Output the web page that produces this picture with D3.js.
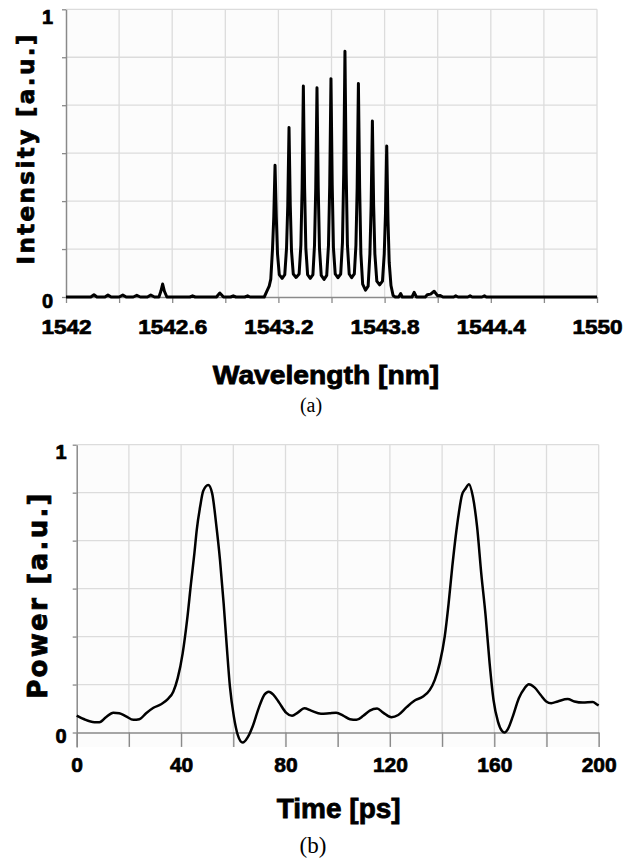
<!DOCTYPE html>
<html>
<head>
<meta charset="utf-8">
<script src="https://cdn.jsdelivr.net/npm/d3@7"></script>
<style>
  body { margin: 0; background: #fff; }
  svg { display: block; }
</style>
</head>
<body>
<div id="chart"></div>
<script>
// (a) optical spectrum, [wavelength nm, intensity a.u.]
const spectrum = [
  [1542.00, 0], [1542.14, 0], [1542.158, 0.008], [1542.175, 0],
  [1542.22, 0], [1542.237, 0.007], [1542.255, 0],
  [1542.30, 0], [1542.321, 0.007], [1542.34, 0],
  [1542.38, 0], [1542.400, 0.006], [1542.42, 0],
  [1542.46, 0], [1542.479, 0.007], [1542.50, 0],
  [1542.525, 0], [1542.536, 0.02], [1542.546, 0.045], [1542.556, 0.02], [1542.57, 0],
  [1542.70, 0], [1542.715, 0.004], [1542.73, 0],
  [1542.85, 0], [1542.869, 0.014], [1542.89, 0],
  [1542.93, 0], [1542.945, 0.004], [1542.96, 0],
  [1543.01, 0], [1543.026, 0.004], [1543.04, 0],
  [1543.12, 0], [1543.135, 0.02], [1543.148, 0.038],
  [1543.157, 0.062], [1543.167, 0.17], [1543.174, 0.28], [1543.181, 0.458], [1543.188, 0.28], [1543.195, 0.15], [1543.205, 0.078],
  [1543.221, 0.065],
  [1543.236, 0.078], [1543.246, 0.17], [1543.253, 0.32], [1543.260, 0.589], [1543.267, 0.32], [1543.274, 0.16], [1543.284, 0.08],
  [1543.300, 0.068],
  [1543.317, 0.08], [1543.327, 0.18], [1543.334, 0.38], [1543.341, 0.733], [1543.348, 0.38], [1543.355, 0.17], [1543.365, 0.078],
  [1543.380, 0.065],
  [1543.395, 0.078], [1543.404, 0.18], [1543.411, 0.38], [1543.418, 0.727], [1543.425, 0.38], [1543.432, 0.17], [1543.442, 0.075],
  [1543.458, 0.061],
  [1543.473, 0.075], [1543.483, 0.18], [1543.490, 0.39], [1543.497, 0.759], [1543.504, 0.39], [1543.511, 0.17], [1543.521, 0.08],
  [1543.536, 0.067],
  [1543.552, 0.08], [1543.562, 0.19], [1543.569, 0.43], [1543.576, 0.854], [1543.583, 0.43], [1543.590, 0.18], [1543.600, 0.08],
  [1543.614, 0.067],
  [1543.629, 0.08], [1543.638, 0.18], [1543.645, 0.38], [1543.652, 0.742], [1543.659, 0.38], [1543.666, 0.15], [1543.676, 0.045],
  [1543.692, 0.024],
  [1543.707, 0.038], [1543.717, 0.15], [1543.724, 0.32], [1543.731, 0.612], [1543.738, 0.32], [1543.745, 0.15], [1543.756, 0.055],
  [1543.772, 0.042],
  [1543.788, 0.055], [1543.798, 0.15], [1543.805, 0.29], [1543.812, 0.525], [1543.819, 0.27], [1543.826, 0.12], [1543.836, 0.04],
  [1543.848, 0.005], [1543.860, 0],
  [1543.88, 0], [1543.891, 0.012], [1543.90, 0],
  [1543.955, 0], [1543.967, 0.016], [1543.98, 0],
  [1544.03, 0], [1544.041, 0.008], [1544.06, 0.01], [1544.080, 0.02], [1544.10, 0.004], [1544.115, 0.005], [1544.13, 0],
  [1544.19, 0], [1544.202, 0.004], [1544.215, 0],
  [1544.27, 0], [1544.283, 0.004], [1544.295, 0],
  [1544.35, 0], [1544.364, 0.004], [1544.375, 0],
  [1545.00, 0]
];
const wlTicks = [1542, 1542.3, 1542.6, 1542.9, 1543.2, 1543.5, 1543.8, 1544.1, 1544.4, 1544.7, 1545];
const wlTickLabels = ["1542", "", "1542.6", "", "1543.2", "", "1543.8", "", "1544.4", "", "1550"];

// (b) pulse train, [time ps, power a.u.]
const pulse = [
  [0, 0.059], [2.9, 0.046], [6.8, 0.036], [8.7, 0.036], [11.2, 0.053], [14.0, 0.069], [16.3, 0.067],
  [18.9, 0.056], [21.7, 0.044], [24.0, 0.046], [26.6, 0.067], [29.4, 0.086], [32.3, 0.098], [34.9, 0.116],
  [37.0, 0.142], [38.7, 0.189], [40.6, 0.275], [42.3, 0.391], [43.8, 0.519], [45.1, 0.623], [46.0, 0.704],
  [47.3, 0.785], [48.5, 0.840], [50.4, 0.860], [51.9, 0.831], [53.4, 0.727], [54.9, 0.600], [56.3, 0.449],
  [57.5, 0.299], [58.7, 0.160], [60.2, 0.056], [61.7, -0.008], [63.6, -0.035], [65.5, -0.017], [67.4, 0.021],
  [69.7, 0.084], [71.9, 0.131], [73.6, 0.142], [75.4, 0.131], [77.7, 0.102], [80.2, 0.069], [82.5, 0.058],
  [84.7, 0.069], [87.2, 0.084], [89.8, 0.076], [93.6, 0.065], [96.8, 0.067], [99.4, 0.069], [102.1, 0.059],
  [104.7, 0.046], [107.2, 0.044], [109.8, 0.058], [112.3, 0.076], [115.1, 0.083], [117.4, 0.069], [120.6, 0.053],
  [123.2, 0.061], [126.4, 0.088], [129.5, 0.111], [132.7, 0.125], [135.3, 0.148], [137.2, 0.183], [139.1, 0.241],
  [141.0, 0.333], [142.5, 0.449], [143.9, 0.576], [145.2, 0.681], [146.4, 0.762], [147.6, 0.825], [149.0, 0.848],
  [150.3, 0.863], [151.8, 0.819], [153.4, 0.715], [155.0, 0.553], [156.7, 0.403], [158.2, 0.241], [159.7, 0.113],
  [161.4, 0.038], [162.9, 0.006], [163.9, 0.000], [165.2, 0.012], [167.1, 0.056], [169.4, 0.119], [171.6, 0.154],
  [173.2, 0.168], [175.4, 0.157], [177.7, 0.131], [179.9, 0.108], [181.8, 0.102], [184.3, 0.108], [188.1, 0.116],
  [190.7, 0.108], [193.9, 0.104], [197.7, 0.106], [199.6, 0.096], [200, 0.094]
];
const timeTicks = [0, 20, 40, 60, 80, 100, 120, 140, 160, 180, 200];
const timeTickLabels = ["0", "", "40", "", "80", "", "120", "", "160", "", "200"];

// shared y ticks (grid every 1/6, only ends labelled)
const levelTicks = [0, 1 / 6, 2 / 6, 3 / 6, 4 / 6, 5 / 6, 1];
const levelLabels = ["0", "", "", "", "", "", "1"];

const gridColor = "#dcdcdc";
const axisColor = "#8a8a8a";
const sansBold = "'Liberation Sans', Arial, sans-serif";
const heavy = "'DejaVu Sans', sans-serif";

const svg = d3.select("#chart").append("svg")
    .attr("width", 643)
    .attr("height", 864);

function styleAxis(g) {
    g.selectAll("path.domain").attr("stroke", axisColor).attr("stroke-width", 1.5);
    g.selectAll(".tick line").attr("stroke", axisColor).attr("stroke-width", 1.3);
    g.selectAll(".tick text")
        .attr("fill", "#000")
        .attr("stroke", "#000")
        .attr("stroke-width", 0.7)
        .style("font-family", sansBold)
        .style("font-weight", "bold")
        .style("font-size", "20px");
}

// heavier look for the titles
function boldText(sel, size, family) {
    sel.style("font-family", family)
        .style("font-weight", "bold")
        .style("font-size", size + "px")
        .attr("fill", "#000")
        .attr("stroke", "#000")
        .attr("stroke-width", 0.8);
}

function drawGrid(x, y, xTicks, yMin) {
    const g = svg.append("g");
    g.append("rect")
        .attr("x", x.range()[0])
        .attr("y", y(1))
        .attr("width", x.range()[1] - x.range()[0])
        .attr("height", y(yMin) - y(1))
        .attr("fill", "#fcfcfc");
    g.selectAll("line.v")
        .data(xTicks.slice(1))
        .join("line")
        .attr("x1", d => x(d)).attr("x2", d => x(d))
        .attr("y1", y(yMin)).attr("y2", y(1))
        .attr("stroke", gridColor).attr("stroke-width", 1.3);
    g.selectAll("line.h")
        .data(levelTicks.slice(1))
        .join("line")
        .attr("x1", x.range()[0]).attr("x2", x.range()[1])
        .attr("y1", d => y(d)).attr("y2", d => y(d))
        .attr("stroke", gridColor).attr("stroke-width", 1.3);
}

//---------------- panel (a) ----------------
const xA = d3.scaleLinear().domain([1542, 1545]).range([66, 597]);
const yA = d3.scaleLinear().domain([0, 1]).range([297, 9.3]);

drawGrid(xA, yA, wlTicks, 0);

svg.append("g")
    .attr("transform", `translate(${xA.range()[0]},0)`)
    .call(d3.axisLeft(yA)
        .tickValues(levelTicks)
        .tickSize(4)
        .tickSizeOuter(0)
        .tickPadding(9)
        .tickFormat((d, i) => levelLabels[i]))
    .call(styleAxis)
    .call(g => g.selectAll(".tick text").attr("dy", d => d === 1 ? "0.7em" : "0.5em"));

svg.append("g")
    .attr("transform", `translate(0,${yA(0)})`)
    .call(d3.axisBottom(xA)
        .tickValues(wlTicks)
        .tickSize(6)
        .tickSizeOuter(0)
        .tickPadding(17)
        .tickFormat((d, i) => wlTickLabels[i]))
    .call(styleAxis)
    .call(g => g.selectAll(".tick text").attr("transform", "scale(1.13,1)"));

svg.append("path")
    .datum(spectrum)
    .attr("fill", "none")
    .attr("stroke", "#000")
    .attr("stroke-width", 3)
    .attr("stroke-linejoin", "round")
    .attr("d", d3.line().x(d => xA(d[0])).y(d => yA(d[1])));

// x title (a)
svg.append("g")
    .attr("transform", "translate(326,383.5)")
    .append("text")
    .attr("transform", "scale(1.13,1)")
    .attr("text-anchor", "middle")
    .call(boldText, 25, sansBold)
    .text("Wavelength [nm]");

// y title (a)
svg.append("text")
    .attr("transform", "translate(34.3,148.4) rotate(-90)")
    .attr("text-anchor", "middle")
    .call(boldText, 23, heavy)
    .style("letter-spacing", "2.4px")
    .text("Intensity [a.u.]");

svg.append("text")
    .attr("x", 311).attr("y", 412)
    .attr("text-anchor", "middle")
    .style("font-family", "'Liberation Serif', 'Times New Roman', serif")
    .style("font-size", "20px")
    .text("(a)");

//---------------- panel (b) ----------------
const xB = d3.scaleLinear().domain([0, 200]).range([76.7, 598.7]);
const yB = d3.scaleLinear().domain([-0.05, 1]).range([746.9, 444.7]);

drawGrid(xB, yB, timeTicks, -0.05);

svg.append("g")
    .attr("transform", `translate(${xB.range()[0]},0)`)
    .call(d3.axisLeft(yB)
        .tickValues(levelTicks)
        .tickSize(4)
        .tickSizeOuter(0)
        .tickPadding(6)
        .tickFormat((d, i) => levelLabels[i]))
    .call(styleAxis)
    .call(g => g.selectAll(".tick text").attr("dy", d => d === 1 ? "0.7em" : "0.5em"));

svg.append("g")
    .attr("transform", `translate(0,${yB(0)})`)
    .call(d3.axisBottom(xB)
        .tickValues(timeTicks)
        .tickSize(yB(-0.05) - yB(0))
        .tickSizeOuter(0)
        .tickPadding(10)
        .tickFormat((d, i) => timeTickLabels[i]))
    .call(styleAxis)
    .call(g => g.selectAll(".tick text").style("font-size", "21px"));

svg.append("path")
    .datum(pulse)
    .attr("fill", "none")
    .attr("stroke", "#000")
    .attr("stroke-width", 2.5)
    .attr("stroke-linejoin", "round")
    .attr("d", d3.line().curve(d3.curveMonotoneX).x(d => xB(d[0])).y(d => yB(d[1])));

svg.append("text")
    .attr("x", 338.7).attr("y", 818)
    .attr("text-anchor", "middle")
    .call(boldText, 28, sansBold)
    .text("Time [ps]");

svg.append("text")
    .attr("transform", "translate(46.6,595) rotate(-90)")
    .attr("text-anchor", "middle")
    .call(boldText, 26, heavy)
    .style("letter-spacing", "2.3px")
    .text("Power [a.u.]");

svg.append("text")
    .attr("x", 313).attr("y", 853)
    .attr("text-anchor", "middle")
    .style("font-family", "'Liberation Serif', 'Times New Roman', serif")
    .style("font-size", "23px")
    .text("(b)");
</script>
</body>
</html>
